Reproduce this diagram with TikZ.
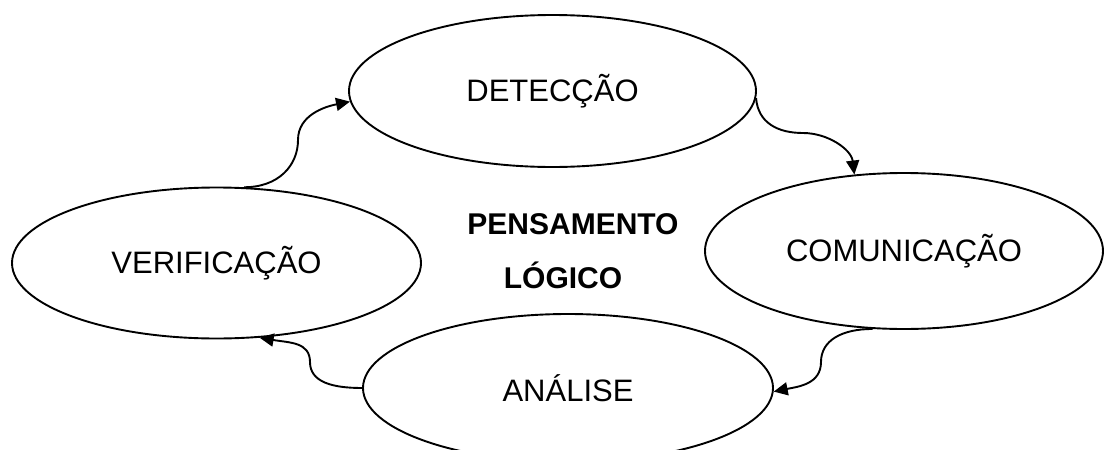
\documentclass[tikz,border=0pt]{standalone}
\usepackage{fontspec}
\setmainfont{Liberation Sans}
\usetikzlibrary{shapes.geometric,arrows.meta}
\begin{document}
\begin{tikzpicture}[x=1pt,y=-1pt,
  stage/.style={ellipse,draw,line width=1.9pt,inner sep=0pt,
    font=\fontsize{31}{37}\selectfont},
  flow/.style={line width=1.9pt,-{Triangle[length=14pt,width=13pt]}},
  title/.style={font=\fontsize{30}{36}\selectfont\bfseries,anchor=base,inner sep=0pt}]
\useasboundingbox (0,0) rectangle (1104,450);
\clip (0,0) rectangle (1104,450);
\node[stage,minimum width=407pt,minimum height=152pt] (detec) at (552.5,91) {DETECÇÃO};
\node[stage,minimum width=409pt,minimum height=151pt] (verif) at (216.5,263) {VERIFICAÇÃO};
\node[stage,minimum width=398pt,minimum height=156pt] (comun) at (904,251) {COMUNICAÇÃO};
\node[stage,minimum width=410pt,minimum height=148pt] (anal) at (568,388) {ANÁLISE};
\node[title] (pens1) at (573,234) {PENSAMENTO};
\node[title] (pens2) at (563,288) {LÓGICO};
\coordinate (m1) at (298,140);
\coordinate (m2) at (803,133);
\coordinate (m3) at (821,362);
\coordinate (m4) at (310,362);
\draw[flow] (verif.70) .. controls +(35,0) and +(0,25) .. (m1)
  .. controls +(0,-25) and +(-25,5) .. (detec.183);
\draw[flow] (detec.-2) .. controls +(2,25) and +(-25,0) .. (m2)
  .. controls +(25,0) and +(-3,-25) .. (comun.123);
\draw[flow] (comun.248) .. controls +(-30,0) and +(0,-22) .. (m3)
  .. controls +(0,22) and +(25,-5) .. (anal.-1.5);
\draw[flow] (anal.180) .. controls +(-30,0) and +(0,20) .. (m4)
  .. controls +(0,-20) and +(30,5) .. (verif.-60);
\end{tikzpicture}
\end{document}
